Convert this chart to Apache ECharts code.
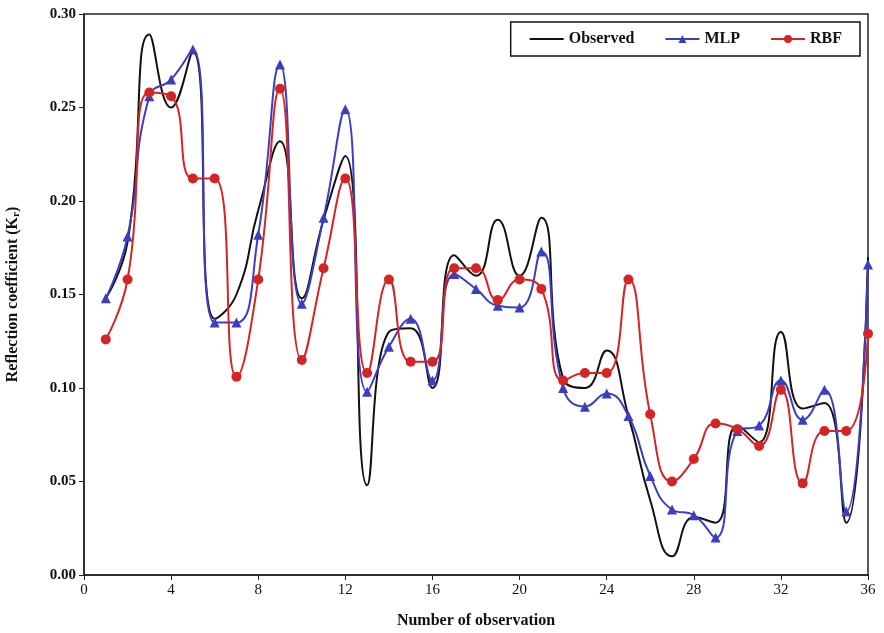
<!DOCTYPE html>
<html>
<head>
<meta charset="utf-8">
<script src="https://cdn.jsdelivr.net/npm/echarts@6/dist/echarts.min.js"></script>
<style>
  html, body { margin: 0; padding: 0; background: #fff; }
  #main { width: 884px; height: 633px; }
</style>
</head>
<body>
<div id="main"></div>
<script>
// observation numbers 1..36
var obsNo = [1, 2, 3, 4, 5, 6, 7, 8, 9, 10, 11, 12, 13, 14, 15, 16, 17, 18,
    19, 20, 21, 22, 23, 24, 25, 26, 27, 28, 29, 30, 31, 32, 33, 34, 35, 36];

var observed = [0.148, 0.178, 0.289, 0.250, 0.280, 0.137, 0.150, 0.195, 0.232, 0.148, 0.190, 0.224,
    0.048, 0.130, 0.132, 0.100, 0.171, 0.160, 0.190, 0.160, 0.191, 0.105, 0.100, 0.120,
    0.085, 0.040, 0.010, 0.031, 0.028, 0.080, 0.071, 0.130, 0.089, 0.092, 0.028, 0.170];

var mlp = [0.148, 0.181, 0.256, 0.265, 0.281, 0.135, 0.135, 0.182, 0.273, 0.145, 0.191, 0.249,
    0.098, 0.122, 0.137, 0.104, 0.161, 0.153, 0.144, 0.143, 0.173, 0.100, 0.090, 0.097,
    0.085, 0.053, 0.035, 0.032, 0.020, 0.077, 0.080, 0.104, 0.083, 0.099, 0.034, 0.166];

var rbf = [0.126, 0.158, 0.258, 0.256, 0.212, 0.212, 0.106, 0.158, 0.260, 0.115, 0.164, 0.212,
    0.108, 0.158, 0.114, 0.114, 0.164, 0.164, 0.147, 0.158, 0.153, 0.104, 0.108, 0.108,
    0.158, 0.086, 0.050, 0.062, 0.081, 0.078, 0.069, 0.099, 0.049, 0.077, 0.077, 0.129];

function pairs(ys) {
    return obsNo.map(function (x, i) { return [x, ys[i]]; });
}

var serifFont = '"Liberation Serif", "DejaVu Serif", serif';

var chart = echarts.init(document.getElementById('main'));

var option = {
    backgroundColor: '#fff',
    animation: false,
    grid: {
        left: 84,
        right: 16,
        top: 14,
        bottom: 58,
        outerBoundsMode: 'none',
        show: true,
        borderColor: '#222',
        borderWidth: 1.5
    },
    legend: {
        right: 24,
        top: 22,
        padding: [9, 18, 9, 18],
        borderColor: '#111',
        borderWidth: 1.5,
        itemGap: 30,
        itemWidth: 34,
        itemHeight: 10,
        textStyle: {
            fontFamily: serifFont,
            fontWeight: 'bold',
            fontSize: 16,
            color: '#111'
        },
        data: [
            { name: 'Observed', itemStyle: { opacity: 0 } },
            'MLP',
            'RBF'
        ]
    },
    xAxis: {
        type: 'value',
        min: 0,
        max: 36,
        interval: 4,
        name: 'Number of observation',
        nameLocation: 'middle',
        nameGap: 38,
        nameTextStyle: {
            fontFamily: serifFont,
            fontWeight: 'bold',
            fontSize: 16,
            color: '#111'
        },
        axisLine: { lineStyle: { color: '#222', width: 1.5 } },
        axisTick: { inside: false, length: 5, lineStyle: { color: '#222' } },
        axisLabel: {
            fontFamily: serifFont,
            fontSize: 15,
            color: '#111',
            margin: 8
        },
        splitLine: { show: false }
    },
    yAxis: {
        type: 'value',
        min: 0,
        max: 0.30,
        interval: 0.05,
        name: '{a|Reflection coefficient (K}{s|r}{a|)}',
        nameLocation: 'middle',
        nameRotate: 90,
        nameGap: 62,
        nameTextStyle: {
            rich: {
                a: {
                    fontFamily: serifFont,
                    fontWeight: 'bold',
                    fontSize: 16,
                    color: '#111'
                },
                s: {
                    fontFamily: serifFont,
                    fontWeight: 'bold',
                    fontSize: 11,
                    color: '#111',
                    padding: [8, 0, 0, 0]
                }
            }
        },
        axisLine: { show: true, lineStyle: { color: '#222', width: 1.5 } },
        axisTick: { show: true, length: 5, lineStyle: { color: '#222' } },
        axisLabel: {
            fontFamily: serifFont,
            fontWeight: 'bold',
            fontSize: 15,
            color: '#111',
            margin: 8,
            formatter: function (v) { return v.toFixed(2); }
        },
        splitLine: { show: false }
    },
    series: [
        {
            name: 'Observed',
            type: 'line',
            data: pairs(observed),
            smooth: 0.5,
            showSymbol: false,
            symbol: 'none',
            lineStyle: { color: '#111', width: 2 },
            itemStyle: { color: '#111' },
            z: 3
        },
        {
            name: 'MLP',
            type: 'line',
            data: pairs(mlp),
            smooth: 0.5,
            symbol: 'triangle',
            symbolSize: 10,
            lineStyle: { color: '#3b3fbf', width: 2 },
            itemStyle: { color: '#3b3fbf' },
            z: 4
        },
        {
            name: 'RBF',
            type: 'line',
            data: pairs(rbf),
            smooth: 0.5,
            symbol: 'circle',
            symbolSize: 10,
            lineStyle: { color: '#d42424', width: 2 },
            itemStyle: { color: '#d42424' },
            z: 5
        }
    ]
};

chart.setOption(option);
</script>
</body>
</html>
